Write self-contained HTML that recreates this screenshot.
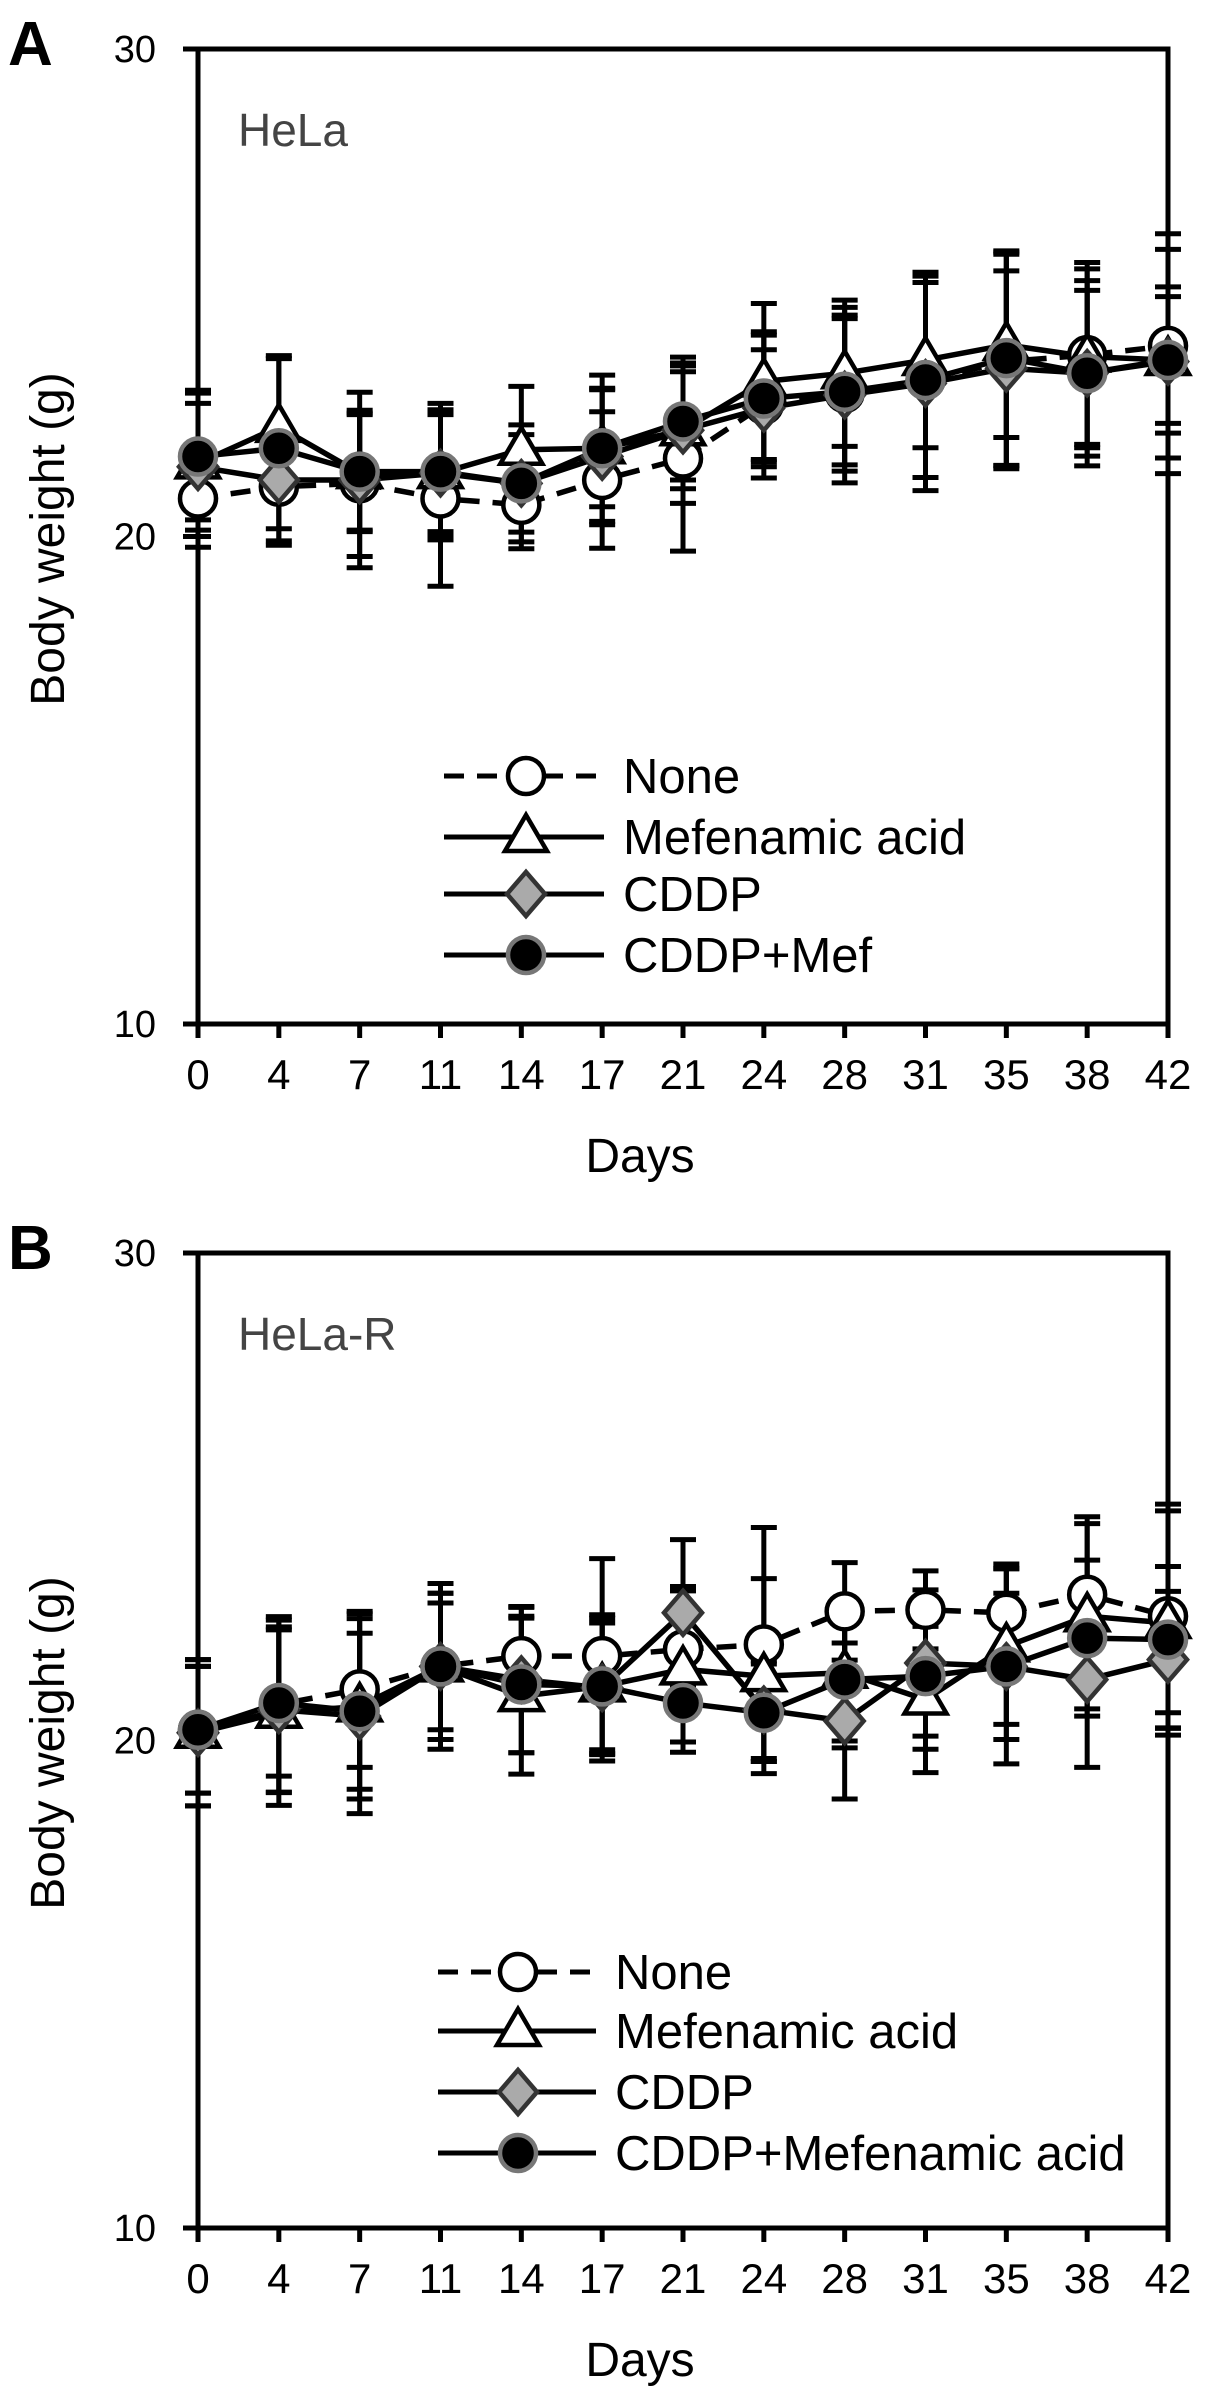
<!DOCTYPE html>
<html><head><meta charset="utf-8">
<style>
html,body{margin:0;padding:0;background:#fff;}
svg{display:block;font-family:"Liberation Sans",Arial,sans-serif;}
</style></head>
<body>
<svg id="fig" width="1205" height="2404" viewBox="0 0 1205 2404" xmlns="http://www.w3.org/2000/svg"></svg>
<script>
const categories = ["0","4","7","11","14","17","21","24","28","31","35","38","42"];
const yTicks = [10,20,30];
const seriesNames = ["None","Mefenamic acid","CDDP"];
const legendLastA = "CDDP+Mef";
const legendLastB = "CDDP+Mefenamic acid";

const aNone  = [20.78,21.02,21.09,20.78,20.65,21.16,21.6,22.7,22.94,23.21,23.59,23.72,23.91];
const aMef   = [21.5,22.25,21.3,21.3,21.78,21.81,22.18,23.18,23.35,23.62,23.93,23.69,23.62];
const aCddp  = [21.43,21.16,21.16,21.3,21.09,21.64,22.18,22.63,22.9,23.14,23.45,23.35,23.59];
const aComb  = [21.64,21.81,21.33,21.33,21.09,21.81,22.36,22.83,22.97,23.21,23.66,23.35,23.62];
const aNoneSd = [1.0,1.2,1.5,1.8,0.9,1.4,1.9,1.5,1.6,2.0,2.2,1.9,2.3];
const aMefSd  = [1.5,1.4,1.2,1.3,1.3,1.2,1.2,1.6,1.5,1.8,1.9,1.8,1.5];
const aCddpSd = [1.3,1.0,1.8,1.2,1.2,1.4,1.5,1.2,1.8,2.2,2.0,1.7,2.3];
const aCombSd = [1.3,1.9,1.2,1.4,1.0,1.5,1.2,1.3,1.5,2.0,2.2,1.9,1.3];

const bNone  = [20.22,20.74,21.05,21.52,21.73,21.73,21.87,21.97,22.65,22.68,22.62,22.99,22.55];
const bMef   = [20.16,20.57,20.7,21.52,20.91,21.11,21.46,21.32,21.39,20.84,21.93,22.55,22.41];
const bCddp  = [20.16,20.63,20.5,21.52,21.25,21.08,22.62,20.63,20.4,21.59,21.52,21.25,21.66];
const bComb  = [20.22,20.77,20.6,21.52,21.15,21.11,20.77,20.57,21.25,21.32,21.52,22.1,22.07];
const bNoneSd = [1.3,1.8,1.6,1.7,1.0,2.0,1.2,2.4,1.0,0.8,1.0,1.6,2.3];
const bMefSd  = [1.5,1.9,1.9,1.3,1.6,1.4,1.7,2.0,1.4,1.5,1.6,1.9,2.3];
const bCddpSd = [1.5,1.7,2.0,1.5,1.5,1.5,1.5,1.0,1.6,1.5,1.5,1.8,1.4];
const bCombSd = [1.3,1.5,1.6,1.5,1.4,1.3,0.8,1.0,1.4,1.5,2.0,1.6,1.5];

const NS = "http://www.w3.org/2000/svg";
const svg = document.getElementById("fig");
function mk(tag, attrs, parent){
  const e = document.createElementNS(NS, tag);
  for (const k in attrs) e.setAttribute(k, attrs[k]);
  (parent||svg).appendChild(e);
  return e;
}

function drawPanel(p){
  const g = mk("g", {});
  
  
  const L=198, R=1168, T=p.top, B=p.top+975;
  const xs = i => L + i*(R-L)/(categories.length-1);
  const ys = v => B - (v-10)/20*(B-T);

  const lt = mk("text",{x:8,y:T+16,"font-size":62,"font-weight":"bold"},g);
  lt.textContent = p.letter;
  
  

  const fr = mk("rect",{x:L,y:T,width:R-L,height:B-T,fill:"none",stroke:"#000","stroke-width":5},g);
  
  

  yTicks.forEach(v=>{
    mk("line",{x1:L-15,x2:L,y1:ys(v),y2:ys(v),stroke:"#000","stroke-width":5},g);
    const t = mk("text",{x:156,y:ys(v)+13,"font-size":38,"text-anchor":"end"},g);
    t.textContent = v;
    
    
  });
  categories.forEach((c,i)=>{
    mk("line",{x1:xs(i),x2:xs(i),y1:B,y2:B+14,stroke:"#000","stroke-width":5},g);
    const t = mk("text",{x:xs(i),y:B+65,"font-size":42,"text-anchor":"middle"},g);
    t.textContent = c;
    
    
  });
  const xt = mk("text",{x:640,y:B+148,"font-size":48,"text-anchor":"middle"},g);
  xt.textContent = "Days";
  
  
  const yt = mk("text",{x:0,y:0,"font-size":48,"text-anchor":"middle",transform:`translate(64,${T+490}) rotate(-90)`},g);
  yt.textContent = "Body weight (g)";
  
  
  const cl = mk("text",{x:238,y:T+97,"font-size":46,fill:"#444"},g);
  cl.textContent = p.cell;
  
  

  const series = [
    {vals:p.none, sd:p.noneSd, dash:"20,13", mark:"circle", fill:"#fff", stroke:"#000"},
    {vals:p.mef,  sd:p.mefSd,  dash:null, mark:"tri", fill:"#fff", stroke:"#000"},
    {vals:p.cddp, sd:p.cddpSd, dash:null, mark:"dia", fill:"#aaa", stroke:"#333"},
    {vals:p.comb, sd:p.combSd, dash:null, mark:"circle", fill:"#000", stroke:"#777"}
  ];
  series.forEach(s=>{
    s.vals.forEach((v,i)=>{
      const x=xs(i), y1=ys(v+s.sd[i]), y2=ys(v-s.sd[i]);
      const eb = mk("path",{d:`M${x},${y1}V${y2}M${x-13},${y1}H${x+13}M${x-13},${y2}H${x+13}`,stroke:"#000","stroke-width":5,fill:"none"},g);
      
      
    });
  });
  series.forEach(s=>{
    const d = s.vals.map((v,i)=>(i?"L":"M")+xs(i)+","+ys(v)).join("");
    const ln = mk("path",{d:d,fill:"none",stroke:"#000","stroke-width":5.5},g);
    if (s.dash) ln.setAttribute("stroke-dasharray", s.dash);
    
    
  });
  function marker(kind,x,y,fill,stroke,parent){
    let e;
    if(kind==="circle") e = mk("circle",{cx:x,cy:y,r:18,fill:fill,stroke:stroke,"stroke-width":4.5},parent);
    else if(kind==="tri") e = mk("path",{d:`M${x},${y-22}L${x+21},${y+14}L${x-21},${y+14}Z`,fill:fill,stroke:stroke,"stroke-width":4.5},parent);
    else e = mk("path",{d:`M${x},${y-22}L${x+19},${y}L${x},${y+22}L${x-19},${y}Z`,fill:fill,stroke:stroke,"stroke-width":4.5},parent);
    return e;
  }
  series.forEach(s=>{
    s.vals.forEach((v,i)=>{
      const m = marker(s.mark,xs(i),ys(v),s.fill,s.stroke,g);
      
      
    });
  });
  const lg = mk("g",{},g);
  
  
  const labels = [seriesNames[0],seriesNames[1],seriesNames[2],p.lastLabel];
  series.forEach((s,k)=>{
    const y = T + p.legY[k];
    const ln = mk("line",{x1:p.legX1,x2:p.legX2,y1:y,y2:y,stroke:"#000","stroke-width":5},lg);
    if (s.dash) ln.setAttribute("stroke-dasharray", s.dash);
    marker(s.mark,p.legM,y,s.fill,s.stroke,lg);
    const t = mk("text",{x:p.legT,y:y+17,"font-size":49},lg);
    t.textContent = labels[k];
    
    
  });
}

drawPanel({id:"a",letter:"A",cell:"HeLa",top:49,none:aNone,mef:aMef,cddp:aCddp,comb:aComb,
  noneSd:aNoneSd,mefSd:aMefSd,cddpSd:aCddpSd,combSd:aCombSd,lastLabel:legendLastA,
  legY:[727,788,845,906],legX1:444,legX2:604,legM:526,legT:623});
drawPanel({id:"b",letter:"B",cell:"HeLa-R",top:1253,none:bNone,mef:bMef,cddp:bCddp,comb:bComb,
  noneSd:bNoneSd,mefSd:bMefSd,cddpSd:bCddpSd,combSd:bCombSd,lastLabel:legendLastB,
  legY:[719,778,839,900],legX1:438,legX2:596,legM:518,legT:615});
</script>
</body></html>
